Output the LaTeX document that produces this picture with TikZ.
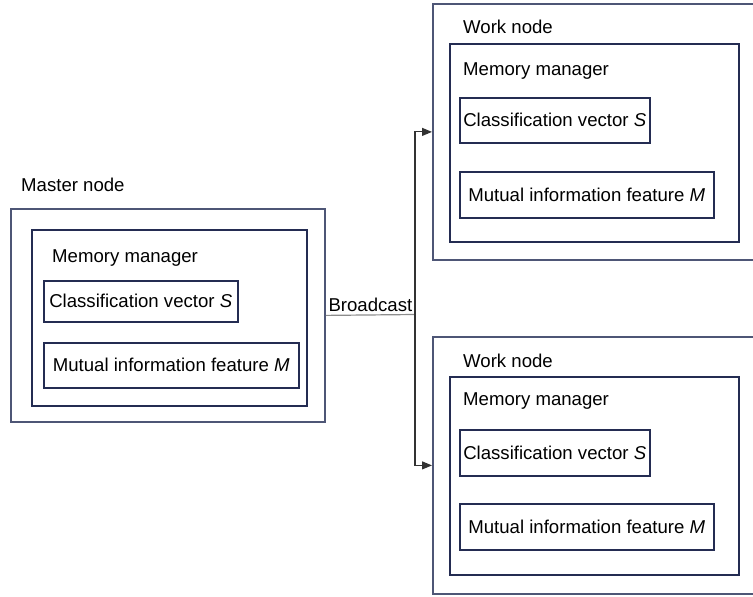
\documentclass[tikz,border=0pt]{standalone}
\usepackage{fontspec}
\setmainfont{Liberation Sans}
\usetikzlibrary{arrows.meta}
\definecolor{outerc}{RGB}{78,86,118}
\definecolor{innerc}{RGB}{36,44,82}
\definecolor{linec}{RGB}{50,50,50}
\definecolor{lightc}{RGB}{140,140,140}
\tikzset{
  outerbox/.style={draw=outerc, line width=1.8pt, rectangle, anchor=north west, inner sep=0pt},
  mgrbox/.style={draw=innerc, line width=1.5pt, rectangle, anchor=north west, inner sep=0pt},
  itembox/.style={draw=innerc, line width=1.5pt, rectangle, anchor=north west, inner sep=0pt, align=center},
  lbl/.style={anchor=west, inner sep=0pt},
  conn/.style={draw=linec, line width=1.2pt},
  arr/.style={draw=linec, line width=1.1pt, -{Triangle[length=10pt,width=8pt]}},
}
\begin{document}
\begin{tikzpicture}[x=1pt,y=-1pt,font=\fontsize{18.6}{22}\selectfont]
\useasboundingbox (0,0) rectangle (753,597);
\clip (0,0) rectangle (753,597);
% Master node
\node[lbl] (mlabel) at (21,185) {Master node};
\node[outerbox, minimum width=314pt, minimum height=213pt] (master) at (10,208) {};
\node[mgrbox, minimum width=275pt, minimum height=176pt] (mmgr) at (31,229) {};
\node[lbl] (mmgrl) at (52,258) {Memory manager};
\node[itembox, minimum width=194pt, minimum height=41pt] (mcv) at (43,280) {Classification vector \textit{S}};
\node[itembox, minimum width=255pt, minimum height=45pt] (mmi) at (43,342) {Mutual information feature \textit{M}};
% Work node 1
\node[outerbox, minimum width=340pt, minimum height=256pt] (work1) at (432,3) {};
\node[lbl] (w1label) at (463,27) {Work node};
\node[mgrbox, minimum width=289pt, minimum height=198pt] (w1mgr) at (449,43) {};
\node[lbl] (w1mgrl) at (463,71) {Memory manager};
\node[itembox, minimum width=190pt, minimum height=45pt] (w1cv) at (459,97) {Classification vector \textit{S}};
\node[itembox, minimum width=254pt, minimum height=46pt] (w1mi) at (459,171) {Mutual information feature \textit{M}};
% Work node 2
\node[outerbox, minimum width=340pt, minimum height=257pt] (work2) at (432,336) {};
\node[lbl] (w2label) at (463,361) {Work node};
\node[mgrbox, minimum width=289pt, minimum height=198pt] (w2mgr) at (449,376) {};
\node[lbl] (w2mgrl) at (463,401) {Memory manager};
\node[itembox, minimum width=190pt, minimum height=46pt] (w2cv) at (459,429) {Classification vector \textit{S}};
\node[itembox, minimum width=254pt, minimum height=46pt] (w2mi) at (459,503) {Mutual information feature \textit{M}};
% Connectors
\coordinate (split) at (415,314.5);
\draw[conn, draw=lightc] (master.east) -- node[above, inner sep=3pt, text=black] (bc) {Broadcast} (split);
\draw[arr] (split) |- (work1.west);
\draw[arr] (split) |- (work2.west);
\end{tikzpicture}
\end{document}
